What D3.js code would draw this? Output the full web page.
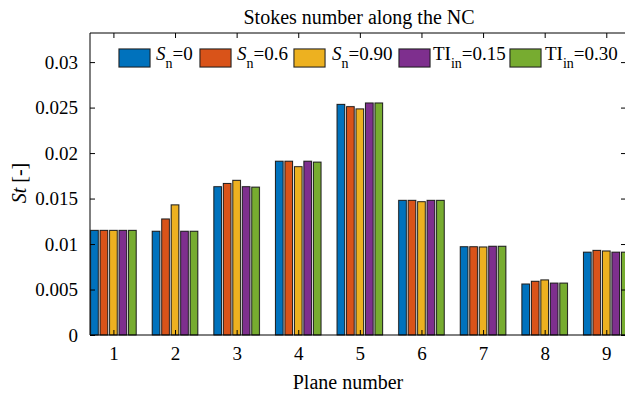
<!DOCTYPE html>
<html>
<head>
<meta charset="utf-8">
<script src="https://cdn.jsdelivr.net/npm/d3@7"></script>
<style>
  body { margin: 0; background: #fff; }
  svg, svg text { font-family: "Liberation Serif", "Times New Roman", serif; fill: #000; }
</style>
</head>
<body>
<div id="chart"></div>
<script>
// Data
const planes = [1, 2, 3, 4, 5, 6, 7, 8, 9]
const sn0   = [0.0115, 0.0114, 0.0163, 0.0191, 0.02535, 0.0148, 0.0097, 0.0056, 0.0091]
const sn06  = [0.0115, 0.01275, 0.01665, 0.0191, 0.0251, 0.0148, 0.0097, 0.0059, 0.0093]
const sn090 = [0.0115, 0.0143, 0.0170, 0.0185, 0.02485, 0.01465, 0.00967, 0.00605, 0.00923]
const ti015 = [0.0115, 0.0114, 0.0163, 0.0191, 0.0255, 0.0148, 0.00975, 0.0057, 0.0091]
const ti030 = [0.0115, 0.0114, 0.01625, 0.0190, 0.0255, 0.0148, 0.00975, 0.0057, 0.0091]
const yTicks = [0, 0.005, 0.01, 0.015, 0.02, 0.025, 0.03]
const yTickLabels = ["0", "0.005", "0.01", "0.015", "0.02", "0.025", "0.03"]
const legendLabels = [
    {main: "S", italic: true, sub: "n", rest: "=0"},
    {main: "S", italic: true, sub: "n", rest: "=0.6"},
    {main: "S", italic: true, sub: "n", rest: "=0.90"},
    {main: "TI", italic: false, sub: "in", rest: "=0.15"},
    {main: "TI", italic: false, sub: "in", rest: "=0.30"},
]
const colors = ["#0072BD", "#D95319", "#EDB120", "#7E2F8E", "#77AC30"]

const series = [sn0, sn06, sn090, ti015, ti030]

// Dimensions
const width = 625
const height = 394
const plot = {left: 90, top: 33, bottom: 335, right: 626}
const serif = "'Liberation Serif', 'Times New Roman', serif"

const svg = d3.select("#chart").append("svg")
    .attr("width", width)
    .attr("height", height)
    .attr("font-family", serif)

// Scales
const xScale = d3.scaleLinear()
    .domain([0.62, 9.32])
    .range([plot.left, plot.right])

const yScale = d3.scaleLinear()
    .domain([0, 0.0332])
    .range([plot.bottom, plot.top])

// Bars (MATLAB grouped style)
const groupWidth = 5 / 6.5
const pitch = (xScale(2) - xScale(1)) * groupWidth / 5
const barW = pitch * 0.8

const bars = svg.append("g")
series.forEach((vals, si) => {
    const off = (si - 2) * pitch
    // soft gray halo
    bars.selectAll(null)
        .data(vals)
        .join("rect")
        .attr("x", (d, i) => xScale(planes[i]) + off - barW / 2 - 0.8)
        .attr("y", d => yScale(d) - 0.8)
        .attr("width", barW + 1.6)
        .attr("height", d => plot.bottom - yScale(d) + 0.8)
        .attr("fill", "#c4c4c4")
    bars.selectAll(null)
        .data(vals)
        .join("rect")
        .attr("x", (d, i) => xScale(planes[i]) + off - barW / 2)
        .attr("y", d => yScale(d))
        .attr("width", barW)
        .attr("height", d => plot.bottom - yScale(d))
        .attr("fill", colors[si])
        .attr("stroke", "#1a1a1a")
        .attr("stroke-width", 0.9)
})

// Axes box
const axisG = svg.append("g")
const tickLen = 5

const xAxis = d3.axisBottom(xScale)
    .tickValues(planes)
    .tickSize(-tickLen)
    .tickPadding(12)
    .tickFormat(d3.format("d"))
axisG.append("g")
    .attr("transform", `translate(0,${plot.bottom})`)
    .call(xAxis)
    .call(g => g.select(".domain").attr("d", `M${plot.left},0H${plot.right}`))

axisG.append("g")
    .attr("transform", `translate(0,${plot.top})`)
    .call(d3.axisTop(xScale).tickValues(planes).tickSize(-tickLen).tickFormat(""))
    .call(g => g.select(".domain").attr("d", `M${plot.left},0H${plot.right}`))

const yAxis = d3.axisLeft(yScale)
    .tickValues(yTicks)
    .tickSize(-tickLen)
    .tickPadding(12)
    .tickFormat((d, i) => yTickLabels[i])
axisG.append("g")
    .attr("transform", `translate(${plot.left},0)`)
    .call(yAxis)
    .call(g => g.select(".domain").attr("d", `M0,${plot.top}V${plot.bottom}`))

axisG.append("g")
    .attr("transform", `translate(${plot.right},0)`)
    .call(d3.axisRight(yScale).tickValues(yTicks).tickSize(-tickLen).tickFormat(""))
    .call(g => g.select(".domain").attr("d", `M0,${plot.top}V${plot.bottom}`))

axisG.selectAll("g").attr("font-family", serif).attr("font-size", 19)
axisG.selectAll("text")
    .style("font-family", serif)
    .style("font-size", "19px")
    .attr("fill", "#000")
axisG.selectAll("line, path").attr("stroke", "#000").attr("stroke-width", 1)

// Title and labels
svg.append("text")
    .attr("x", 359)
    .attr("y", 24)
    .attr("text-anchor", "middle")
    .style("font-size", "20px")
    .text("Stokes number along the NC")

svg.append("text")
    .attr("x", 348)
    .attr("y", 389)
    .attr("text-anchor", "middle")
    .style("font-size", "20px")
    .text("Plane number")

const yLab = svg.append("text")
    .attr("transform", "translate(26,183) rotate(-90)")
    .attr("text-anchor", "middle")
    .style("font-size", "20px")
yLab.append("tspan").style("font-style", "italic").text("St")
yLab.append("tspan").text(" [-]")

// Legend
const legendSwatchX = [119, 200, 294, 399, 510]
const legendTextX = [156, 237, 332, 433, 545]
const legend = svg.append("g")
legendLabels.forEach((lab, i) => {
    legend.append("rect")
        .attr("x", legendSwatchX[i] - 0.8)
        .attr("y", 48.2)
        .attr("width", 32.6)
        .attr("height", 19.6)
        .attr("fill", "#c4c4c4")
    legend.append("rect")
        .attr("x", legendSwatchX[i])
        .attr("y", 49)
        .attr("width", 31)
        .attr("height", 18)
        .attr("fill", colors[i])
        .attr("stroke", "#1a1a1a")
        .attr("stroke-width", 0.9)
    const t = legend.append("text")
        .attr("x", legendTextX[i])
        .attr("y", 59.5)
        .style("font-size", "19px")
    t.append("tspan")
        .style("font-style", lab.italic ? "italic" : "normal")
        .text(lab.main)
    t.append("tspan")
        .attr("dy", 8)
        .style("font-size", "14px")
        .text(lab.sub)
    t.append("tspan")
        .attr("dy", -8)
        .text(lab.rest)
})
</script>
</body>
</html>
